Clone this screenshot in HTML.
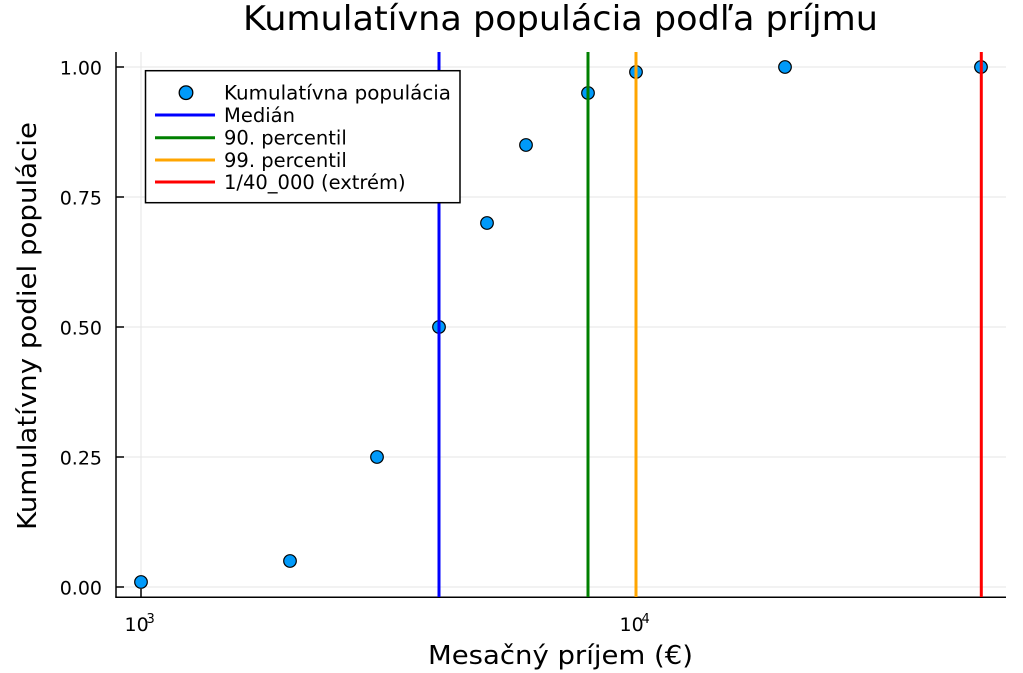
<!DOCTYPE html>
<html>
<head>
<meta charset="utf-8">
<style>
  html,body{margin:0;padding:0;background:#fff;}
  svg{display:block;}
  text{font-family:"DejaVu Sans","Liberation Sans",sans-serif;fill:#000;}
</style>
</head>
<body>
<svg width="1023" height="673" viewBox="0 0 1023 673" xmlns="http://www.w3.org/2000/svg">
  <rect x="0" y="0" width="1023" height="673" fill="#fff"/>

  <!-- grid -->
  <g stroke="#e5e5e5" stroke-width="1">
    <line x1="141" y1="52" x2="141" y2="597"/>
    <line x1="636" y1="52" x2="636" y2="597"/>
    <line x1="116" y1="587" x2="1006" y2="587"/>
    <line x1="116" y1="457" x2="1006" y2="457"/>
    <line x1="116" y1="327" x2="1006" y2="327"/>
    <line x1="116" y1="197" x2="1006" y2="197"/>
    <line x1="116" y1="67" x2="1006" y2="67"/>
  </g>

  <!-- axes spines -->
  <g stroke="#000" stroke-width="1.5">
    <line x1="116" y1="52" x2="116" y2="597.5"/>
    <line x1="115.3" y1="597.3" x2="1006" y2="597.3"/>
    <!-- y ticks -->
    <line x1="116" y1="587" x2="124" y2="587"/>
    <line x1="116" y1="457" x2="124" y2="457"/>
    <line x1="116" y1="327" x2="124" y2="327"/>
    <line x1="116" y1="197" x2="124" y2="197"/>
    <line x1="116" y1="67" x2="124" y2="67"/>
    <!-- x ticks -->
    <line x1="141" y1="597" x2="141" y2="589"/>
    <line x1="636" y1="597" x2="636" y2="589"/>
  </g>

  <!-- scatter points -->
  <g fill="#009AFA" stroke="#000" stroke-width="1.2">
    <circle cx="141" cy="582" r="6.3"/>
    <circle cx="290" cy="561" r="6.3"/>
    <circle cx="377" cy="457" r="6.3"/>
    <circle cx="439" cy="327" r="6.3"/>
    <circle cx="487" cy="223" r="6.3"/>
    <circle cx="526" cy="145" r="6.3"/>
    <circle cx="588" cy="93" r="6.3"/>
    <circle cx="636" cy="72" r="6.3"/>
    <circle cx="785" cy="67" r="6.3"/>
    <circle cx="981" cy="67" r="6.3"/>
  </g>

  <!-- vertical lines -->
  <g stroke-width="3">
    <line x1="439" y1="52" x2="439" y2="597" stroke="#0000FF"/>
    <line x1="588" y1="52" x2="588" y2="597" stroke="#008000"/>
    <line x1="636" y1="52" x2="636" y2="597" stroke="#FFA500"/>
    <line x1="981.3" y1="52" x2="981.3" y2="597" stroke="#FF0000"/>
  </g>

  <!-- y tick labels -->
  <g font-size="19" text-anchor="end">
    <text x="102" y="594.5">0.00</text>
    <text x="102" y="464.5">0.25</text>
    <text x="102" y="334.5">0.50</text>
    <text x="102" y="204.5">0.75</text>
    <text x="102" y="74.5">1.00</text>
  </g>

  <!-- x tick labels -->
  <g font-size="19">
    <text x="124.5" y="631">10</text>
    <text x="146.5" y="623" font-size="13">3</text>
    <text x="619.5" y="631">10</text>
    <text x="641.5" y="623" font-size="13">4</text>
  </g>

  <!-- title -->
  <text x="243" y="30" font-size="34" textLength="635" lengthAdjust="spacingAndGlyphs">Kumulatívna populácia podľa príjmu</text>

  <!-- x label -->
  <text x="428" y="664" font-size="26" textLength="265" lengthAdjust="spacingAndGlyphs">Mesačný príjem (€)</text>

  <!-- y label -->
  <text transform="translate(36,530) rotate(-90)" x="0" y="0" font-size="26" textLength="408" lengthAdjust="spacingAndGlyphs">Kumulatívny podiel populácie</text>

  <!-- legend -->
  <rect x="145.5" y="70.7" width="314.5" height="132" fill="#fff" stroke="#000" stroke-width="1.5"/>
  <circle cx="186" cy="92.7" r="6.8" fill="#009AFA" stroke="#000" stroke-width="1.3"/>
  <g stroke-width="3">
    <line x1="155" y1="115" x2="215" y2="115" stroke="#0000FF"/>
    <line x1="155" y1="137.7" x2="215" y2="137.7" stroke="#008000"/>
    <line x1="155" y1="160" x2="215" y2="160" stroke="#FFA500"/>
    <line x1="155" y1="182" x2="215" y2="182" stroke="#FF0000"/>
  </g>
  <g font-size="19.5">
    <text x="224" y="99.7" textLength="227" lengthAdjust="spacingAndGlyphs">Kumulatívna populácia</text>
    <text x="224" y="122">Medián</text>
    <text x="224" y="144.7">90. percentil</text>
    <text x="224" y="167">99. percentil</text>
    <text x="224" y="189">1/40_000 (extrém)</text>
  </g>
</svg>
</body>
</html>
